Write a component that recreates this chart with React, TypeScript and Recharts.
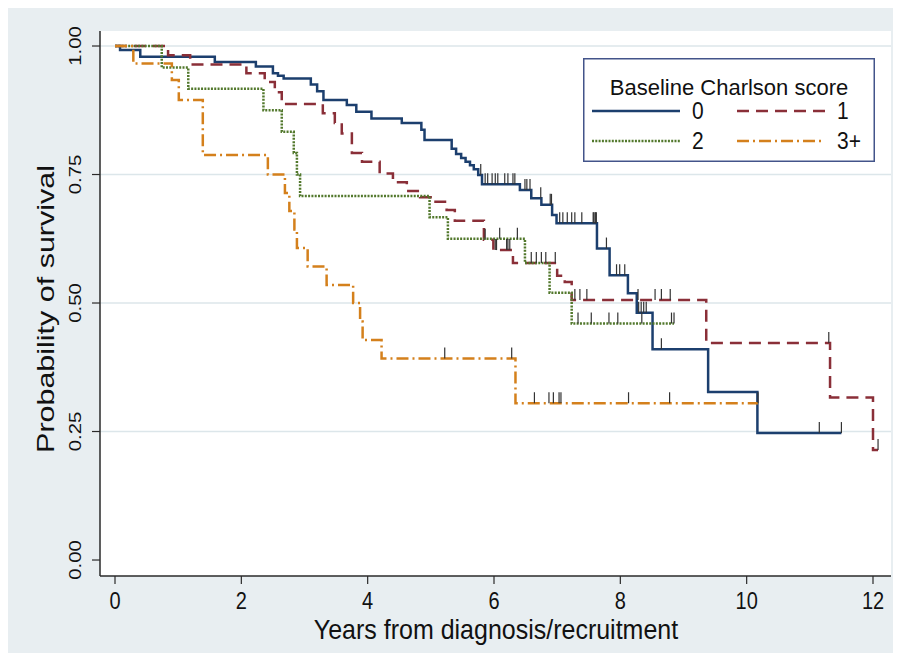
import React from 'react';
import {
  ComposedChart,
  Line,
  Scatter,
  XAxis,
  YAxis,
  CartesianGrid,
} from 'recharts';

// Kaplan-Meier step points (years, survival), plus censoring times
const T0 = [0, 0.08, 0.4, 1.58, 2.23, 2.5, 2.58, 2.67, 3.1, 3.2, 3.3, 3.67, 3.82, 4.06, 4.54, 4.85, 4.9, 5.33, 5.4, 5.48, 5.55, 5.62, 5.68, 5.75, 5.81, 6.41, 6.59, 6.75, 6.92, 6.99, 7.63, 7.83, 8.12, 8.26, 8.51, 9.39, 10.17, 11.5];
const S0 = [1, 0.992, 0.979, 0.969, 0.96, 0.947, 0.942, 0.937, 0.925, 0.912, 0.895, 0.885, 0.872, 0.859, 0.85, 0.837, 0.817, 0.8, 0.79, 0.782, 0.775, 0.768, 0.76, 0.749, 0.731, 0.72, 0.704, 0.691, 0.671, 0.655, 0.606, 0.554, 0.519, 0.481, 0.41, 0.327, 0.247, 0.247];
const C0 = [5.79, 5.86, 5.9, 5.97, 6.02, 6.06, 6.17, 6.22, 6.3, 6.33, 6.49, 6.52, 6.57, 6.74, 6.89, 6.91, 7.04, 7.09, 7.16, 7.23, 7.28, 7.39, 7.57, 7.58, 7.6, 7.61, 7.62, 7.78, 7.94, 7.99, 8.07, 8.29, 8.33, 8.37, 8.41, 8.65, 11.15, 11.5];

const T1 = [0, 0.84, 1.19, 2.08, 2.37, 2.53, 2.64, 3.29, 3.48, 3.59, 3.75, 3.91, 4.19, 4.4, 4.62, 4.83, 5.03, 5.25, 5.38, 5.84, 5.99, 6.3, 7.0, 7.12, 7.23, 9.36, 11.32, 12.0, 12.08];
const S1 = [1, 0.982, 0.964, 0.947, 0.93, 0.91, 0.887, 0.869, 0.85, 0.83, 0.792, 0.775, 0.752, 0.735, 0.718, 0.706, 0.697, 0.681, 0.66, 0.623, 0.603, 0.578, 0.553, 0.541, 0.506, 0.422, 0.316, 0.214, 0.214];
const C1 = [5.86, 6.02, 6.04, 6.2, 6.22, 6.25, 6.67, 6.82, 6.97, 7.28, 7.36, 7.47, 8.28, 8.55, 8.65, 8.79, 11.3, 12.08];

const T2 = [0, 0.74, 1.16, 2.35, 2.64, 2.83, 2.88, 2.93, 4.98, 5.27, 6.49, 6.88, 7.23, 8.85];
const S2 = [1, 0.958, 0.917, 0.875, 0.833, 0.792, 0.75, 0.708, 0.667, 0.625, 0.578, 0.52, 0.46, 0.46];
const C2 = [6.09, 6.37, 6.59, 6.75, 7.33, 7.54, 7.82, 7.96, 8.34, 8.81, 8.85];

const T3 = [0, 0.29, 0.9, 1.01, 1.39, 2.42, 2.69, 2.76, 2.84, 2.88, 3.05, 3.35, 3.77, 3.88, 3.92, 4.22, 6.34, 10.18];
const S3 = [1, 0.966, 0.934, 0.895, 0.788, 0.75, 0.714, 0.679, 0.643, 0.607, 0.571, 0.535, 0.5, 0.464, 0.428, 0.392, 0.305, 0.305];
const C3 = [5.22, 6.28, 6.64, 6.87, 6.94, 7.03, 7.06, 8.13, 8.78, 10.18];

const GROUPS = ['0', '1', '2', '3+'];
const X_TICKS = [0, 2, 4, 6, 8, 10, 12];
const Y_TICKS = [0, 0.25, 0.5, 0.75, 1];
const GRID_VALUES = [0.25, 0.5, 0.75, 1];

const FONT = '"Liberation Sans", Arial, sans-serif';
// the source image is stretched vertically, so its text is taller than it is wide
const STRETCH = 1.27;

const steps = (T: number[], S: number[]) => T.map((t, i) => ({ t, s: S[i] }));
const survAt = (T: number[], S: number[], t: number) => {
  let v = S[0];
  for (let i = 0; i < T.length; i++) if (T[i] <= t) v = S[i];
  return v;
};
const censors = (T: number[], S: number[], C: number[]) =>
  C.map((t) => ({ t, s: survAt(T, S, t) }));

const series = [
  { name: GROUPS[0], T: T0, S: S0, C: C0, color: '#1c3f6e', dash: undefined },
  { name: GROUPS[1], T: T1, S: S1, C: C1, color: '#8a2f38', dash: '12 7' },
  { name: GROUPS[2], T: T2, S: S2, C: C2, color: '#52782c', dash: '2 1.3' },
  { name: GROUPS[3], T: T3, S: S3, C: C3, color: '#d4801c', dash: '12 4 2 4' },
];

const CensorTick = (p: any) => (
  <line x1={p.cx} x2={p.cx} y1={p.cy} y2={p.cy - 11} stroke="#333" strokeWidth={1.2} />
);

const YTick = ({ x, y, payload }: any) => (
  <text
    transform={`translate(${x - 15} ${y}) scale(1 1.2) rotate(-90)`}
    textAnchor="middle"
    dominantBaseline="central"
    fontSize={17}
    fontFamily={FONT}
    fill="#111"
  >
    {payload.value.toFixed(2)}
  </text>
);

const XTick = ({ x, y, payload }: any) => (
  <text
    transform={`translate(${x} ${y + 15}) scale(1 1.15)`}
    textAnchor="middle"
    dominantBaseline="central"
    fontSize={20}
    fontFamily={FONT}
    fill="#111"
  >
    {payload.value}
  </text>
);

function KMLegend() {
  return (
    <svg width={292} height={104} style={{ position: 'absolute', left: 575, top: 50 }}>
      <rect x={0.75} y={0.75} width={290.5} height={102.5} fill="#fff" stroke="#43548a" strokeWidth={1.5} />
      <text x={146} y={29} textAnchor="middle" dominantBaseline="central" fontSize={22} fontFamily={FONT} fill="#111">
        Baseline Charlson score
      </text>
      {series.map((s, i) => {
        const col = i % 2;
        const row = Math.floor(i / 2);
        const x0 = col === 0 ? 9 : 154;
        const y = row === 0 ? 53 : 83;
        return (
          <g key={s.name}>
            <line x1={x0} x2={x0 + 88} y1={y} y2={y} stroke={s.color} strokeWidth={2.5} strokeDasharray={s.dash} />
            <text
              transform={`translate(${x0 + 100} ${y}) scale(1 1.1)`}
              dominantBaseline="central"
              fontSize={21}
              fontFamily={FONT}
              fill="#111"
            >
              {s.name}
            </text>
          </g>
        );
      })}
    </svg>
  );
}

export default function App() {
  return (
    <div style={{ position: 'relative', width: 885, height: 645, background: '#e8eef1', fontFamily: FONT }}>
      <ComposedChart width={885} height={645} margin={{ top: 23, right: 2, bottom: 0, left: 32 }}>
        <CartesianGrid
          fill="#fff"
          vertical={false}
          horizontalValues={GRID_VALUES}
          stroke="#dce6ea"
          strokeWidth={1.5}
        />
        <XAxis
          type="number"
          dataKey="t"
          domain={[-0.2375, 12.285]}
          allowDataOverflow
          ticks={X_TICKS}
          tick={<XTick />}
          tickSize={8}
          height={77}
          axisLine={{ stroke: '#2a2a2a', strokeWidth: 1.5 }}
          tickLine={{ stroke: '#2a2a2a', strokeWidth: 1.2 }}
          label={() => (
            <text
              transform="translate(488 622) scale(1 1.1)"
              textAnchor="middle"
              dominantBaseline="central"
              fontSize={25}
              fontFamily={FONT}
              fill="#111"
            >
              Years from diagnosis/recruitment
            </text>
          )}
        />
        <YAxis
          type="number"
          dataKey="s"
          domain={[-0.0311, 1.0292]}
          allowDataOverflow
          ticks={Y_TICKS}
          tick={<YTick />}
          tickSize={8}
          width={60}
          axisLine={{ stroke: '#2a2a2a', strokeWidth: 1.5 }}
          tickLine={{ stroke: '#2a2a2a', strokeWidth: 1.2 }}
          label={() => (
            <text
              transform={`translate(38 301) scale(1 ${STRETCH}) rotate(-90)`}
              textAnchor="middle"
              dominantBaseline="central"
              fontSize={24}
              fontFamily={FONT}
              fill="#111"
            >
              Probability of survival
            </text>
          )}
        />
        {series.map((s) => (
          <Line
            key={`line-${s.name}`}
            data={steps(s.T, s.S)}
            dataKey="s"
            type="stepAfter"
            stroke={s.color}
            strokeWidth={2.5}
            strokeDasharray={s.dash}
            dot={false}
            activeDot={false}
            isAnimationActive={false}
          />
        ))}
        {series.map((s) => (
          <Scatter
            key={`cens-${s.name}`}
            data={censors(s.T, s.S, s.C)}
            dataKey="s"
            shape={<CensorTick />}
            isAnimationActive={false}
          />
        ))}
      </ComposedChart>
      <KMLegend />
    </div>
  );
}
